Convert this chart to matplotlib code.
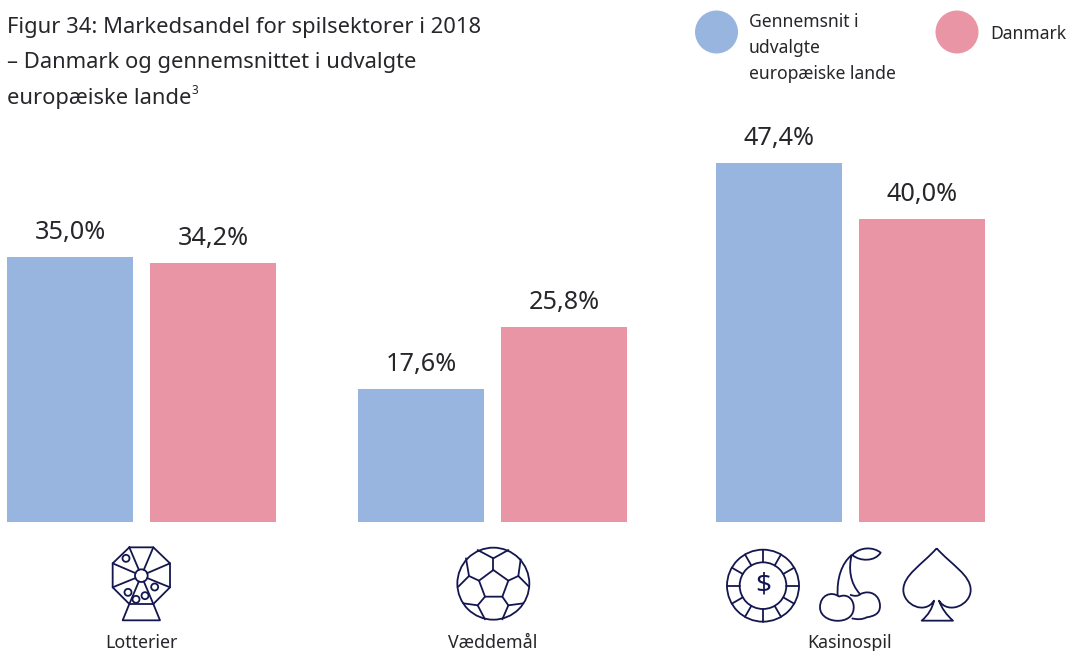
#!/usr/bin/env python3
"""Figur 34: Markedsandel for spilsektorer i 2018 - bars plus hand-traced icons."""
import matplotlib
matplotlib.use("Agg")
import matplotlib.pyplot as plt
import matplotlib.patches as mpatches
from matplotlib.path import Path
import numpy as np

W, H = 1069, 651
BLUE, PINK, NAVY, INK = "#97b5df", "#ea95a6", "#14174f", "#26262b"
plt.rcParams["font.family"] = ["Noto Sans", "DejaVu Sans"]

CATEGORIES = ["Lotterier", "Væddemål", "Kasinospil"]
GENNEMSNIT = [35.0, 17.6, 47.4]
DANMARK = [34.2, 25.8, 40.0]
SERIES_LABELS = ["Gennemsnit i\nudvalgte\neuropæiske lande", "Danmark"]
TITLE_LINES = ["Figur 34: Markedsandel for spilsektorer i 2018",
               "– Danmark og gennemsnittet i udvalgte",
               "europæiske lande"]

fig = plt.figure(figsize=(W / 100, H / 100), dpi=100)

# ---------- bars ----------
BASE_Y = 522
PX_PER_UNIT = 359 / 47.4
ax = fig.add_axes((0, 1 - BASE_Y / H, 1, BASE_Y / H))
ax.set_xlim(0, W); ax.set_ylim(0, BASE_Y / PX_PER_UNIT)
ax.axis("off")
centers = [141.5, 492.5, 850.5]
bw = 126
for cx, a, b in zip(centers, GENNEMSNIT, DANMARK):
    for x, v, col in ((cx - 71.5, a, BLUE), (cx + 71.5, b, PINK)):
        ax.bar(x, v, bw, color=col)
        ax.annotate(f"{v:.1f}%".replace(".", ","), (x, v), xytext=(0, 13), textcoords="offset points",
                    ha="center", va="baseline", fontsize=18.2, color=INK)

# ---------- overlay in pixel coordinates: title, legend, icons ----------
ov = fig.add_axes((0, 0, 1, 1))
ov.set_xlim(0, W); ov.set_ylim(H, 0)
ov.axis("off"); ov.patch.set_alpha(0)

for y, line in zip((33, 68, 104), TITLE_LINES):
    ov.text(7, y, line, fontsize=15.8, color=INK, va="baseline")
ov.text(191, 94, "3", fontsize=8.5, color=INK, va="baseline")

ov.add_patch(mpatches.Circle((716.5, 32), 21.5, color=BLUE, lw=0))
ov.add_patch(mpatches.Circle((957, 32), 21.5, color=PINK, lw=0))
for y, line in zip((27, 53, 79), SERIES_LABELS[0].split("\n")):
    ov.text(749, y, line, fontsize=12.6, color=INK, va="baseline")
ov.text(990, 39, SERIES_LABELS[1], fontsize=12.6, color=INK, va="baseline")

for cx, name in zip((141, 493, 850), CATEGORIES):
    ov.text(cx, 648, name, fontsize=12.8, color=INK, ha="center", va="baseline")

LW = 1.3
def seg(pts, ox, oy, closed=False):
    xy = np.array(pts, float) / 3 + (ox, oy)
    if closed:
        xy = np.vstack([xy, xy[0]])
    ov.plot(xy[:, 0], xy[:, 1], color=NAVY, lw=LW, solid_capstyle="round", solid_joinstyle="round")

def circ(x, y, r, ox, oy):
    ov.add_patch(mpatches.Circle((ox + x / 3, oy + y / 3), r / 3, fill=False, ec=NAVY, lw=LW))

def curve(verts, ox, oy):
    # first item is the start point, then cubic triples or one-point line steps
    v, c = [], []
    for i, chunk in enumerate(verts):
        pts = [chunk] if i == 0 else chunk
        for p in pts:
            v.append((ox + p[0] / 3, oy + p[1] / 3))
            if i == 0:
                c.append(Path.MOVETO)
            else:
                c.append(Path.CURVE4 if len(pts) == 3 else Path.LINETO)
    ov.add_patch(mpatches.PathPatch(Path(v, c), fill=False, ec=NAVY, lw=LW, joinstyle="round"))

# lottery wheel
ox, oy = 90, 530
octa = [(118, 52), (190, 52), (240, 100), (240, 172), (190, 222), (118, 222), (68, 172), (68, 100)]
seg(octa, ox, oy, closed=True)
hub = (154, 137)
for p in octa:
    d = np.array(p, float) - hub
    seg([hub + d / np.hypot(*d) * 19, p], ox, oy)
seg([(118, 222), (98, 271), (210, 271), (190, 222)], ox, oy)
circ(*hub, 19, ox, oy)
for bx, by in ((108, 85), (114, 187), (138, 208), (165, 197), (194, 171)):
    circ(bx, by, 10.5, ox, oy)

# football
ox, oy = 440, 530
circ(160, 161, 108, ox, oy)
seg([(160, 120), (205, 152), (187, 200), (135, 200), (117, 152)], ox, oy, closed=True)
for path in ([(160, 120), (160, 85)], [(113, 60), (160, 85), (205, 60)],
             [(117, 152), (87, 138)], [(78, 85), (87, 138), (55, 170)],
             [(205, 152), (235, 138)], [(242, 88), (235, 138), (267, 170)],
             [(135, 200), (113, 226)], [(70, 220), (113, 226), (135, 268)],
             [(187, 200), (205, 226)], [(250, 220), (205, 226), (187, 268)]):
    seg(path, ox, oy)

# casino chip, cherries, spade
ox, oy = 715, 530
circ(144, 167, 108, ox, oy)
circ(144, 167, 70, ox, oy)
for ang in np.radians(np.arange(0, 360, 30)):
    u = np.array([np.cos(ang), np.sin(ang)])
    seg([(144, 167) + u * 70, (144, 167) + u * 108], ox, oy)
ov.text(ox + 144 / 3, oy + 167 / 3, "$", fontsize=20, color=NAVY, ha="center", va="center")

curve([(372, 200), [(350, 182), (315, 195), (315, 232)], [(315, 262), (350, 275), (375, 272)],
       [(400, 270), (418, 255), (416, 228)], [(414, 205), (395, 190), (372, 200)]], ox, oy)
curve([(405, 194), [(420, 200), (430, 198), (437, 192)], [(465, 178), (495, 195), (495, 228)],
       [(495, 250), (480, 258), (455, 262)], [(440, 270), (425, 268), (410, 265)]], ox, oy)
curve([(368, 198), [(365, 145), (380, 100), (410, 75)], [(400, 115), (405, 160), (435, 192)]], ox, oy)
curve([(412, 75), [(435, 50), (475, 50), (497, 68)], [(480, 95), (435, 95), (412, 75)]], ox, oy)
curve([(665, 55), [(620, 105), (565, 135), (565, 180)], [(565, 225), (630, 255), (657, 212)],
       [(652, 235), (640, 255), (620, 272)], [(714, 272)], [(695, 255), (680, 235), (672, 212)],
       [(700, 255), (767, 225), (767, 180)], [(767, 135), (710, 105), (665, 55)]], ox, oy)

fig.savefig("out.png", dpi=100)
